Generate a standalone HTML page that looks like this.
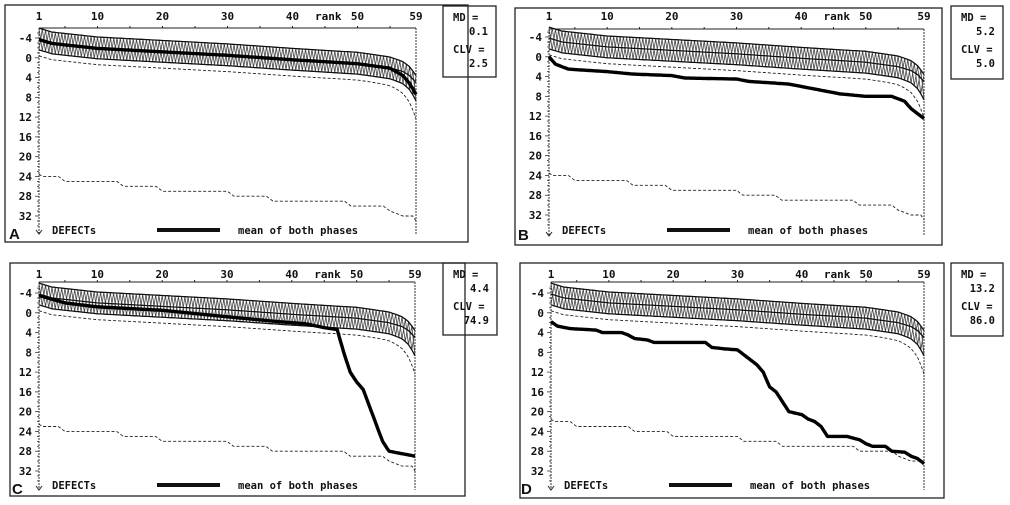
<!DOCTYPE html>
<html><head><meta charset="utf-8"><style>
html,body{margin:0;padding:0;background:#fff;}
svg{display:block;}
text{font-family:"DejaVu Sans Mono","Liberation Mono",monospace;font-weight:bold;fill:#111;}
</style></head><body>
<svg id="s" width="1010" height="505" viewBox="0 0 1010 505" xmlns="http://www.w3.org/2000/svg"></svg>
<script>
const S=document.getElementById('s');let h='';
function interp(pts,r){for(let i=0;i<pts.length-1;i++){if(r<=pts[i+1][0]){const a=pts[i],b=pts[i+1];const t=(r-a[0])/(b[0]-a[0]);return a[1]+t*(b[1]-a[1]);}}return pts[pts.length-1][1];}
const M=[[1,-3.8],[3,-3],[10,-2],[20,-1.3],[30,-0.6],[40,0.3],[50,1.1],[55,2],[57,2.8],[58,3.6],[59,5]];
const mean=r=>interp(M,r);
const top_=r=>mean(r)-2.2+0.8*Math.exp((r-59)/1.5);
const bot=r=>mean(r)+2.2+1.5*Math.exp((r-59)/1.2);
const dash=r=>mean(r)+3.4+4*Math.exp((r-59)/1.5);
function lim(b){return [[1,b],[1.5,b+.5],[4,b+.5],[5,b+1.5],[13,b+1.5],[14,b+2.5],[19,b+2.5],[20,b+3.5],[30,b+3.5],[31,b+4.5],[36,b+4.5],[37,b+5.5],[48,b+5.5],[49,b+6.5],[54,b+6.5],[55,b+7.5],[57,b+8.5],[58.5,b+8.5],[59,b+9.5]];}
const P=[
{box:[5,5,463,237],L:39,R:416,T:28,y4:38,y32:216,B:234,md:[443,6,53,71],lab:'A',lx:9,ly:239,tl:20,lg:230,mdv:['0.1','2.5'],lb:23.5,
 pat:M.map(p=>[p[0],p[1]+(p[0]>56?(p[0]-56)*0.8:0.1)])},
{box:[515,8,427,237],L:549,R:924,T:29,y4:37,y32:215,B:236,md:[951,6,52,73],lab:'B',lx:518,ly:240,tl:20,lg:230,mdv:['5.2','5.0'],lb:23.5,
 pat:[[1,0],[2,1.5],[4,2.5],[10,3],[14,3.5],[20,3.8],[22,4.3],[30,4.5],[32,5],[38,5.5],[42,6.5],[46,7.5],[50,8],[54,8],[56,9],[57,10.5],[58,11.5],[59,12.5]]},
{box:[10,263,455,233],L:39,R:415,T:282,y4:293,y32:471,B:490,md:[443,263,54,72],lab:'C',lx:12,ly:494,tl:278,lg:485,mdv:['4.4','74.9'],lb:22.5,
 pat:[[1,-3.5],[5,-2],[10,-1.2],[20,-0.5],[30,0.8],[38,1.8],[42,2.2],[45,3],[47,3.4],[48,8],[49,12],[50,14],[51,15.5],[52,19],[53,22.5],[54,26],[55,28],[57,28.5],[59,29]]},
{box:[520,263,424,235],L:551,R:924,T:282,y4:293,y32:471,B:490,md:[951,263,52,73],lab:'D',lx:521,ly:494,tl:278,lg:485,mdv:['13.2','86.0'],lb:21.5,
 pat:[[1,1.8],[2,2.7],[4,3.2],[8,3.5],[9,4],[12,4],[13,4.5],[14,5.2],[16,5.5],[17,6],[25,6],[26,7],[28,7.3],[30,7.5],[31,8.5],[33,10.5],[34,12],[35,15],[36,16],[37,18],[38,20],[40,20.6],[41,21.5],[42,22],[43,23],[44,25],[47,25],[49,25.7],[50,26.5],[51,27],[53,27],[54,28],[56,28.2],[57,29],[58,29.5],[59,30.5]]}
];
for(const p of P){
 const X=r=>p.L+(r-1)*(p.R-p.L)/58, Y=v=>p.y4+(v+4)*(p.y32-p.y4)/36;
 const [bx,by,bw,bh]=p.box;
 h+=`<rect x="${bx}" y="${by}" width="${bw}" height="${bh}" fill="none" stroke="#222" stroke-width="1.3"/>`;
 const [mx,my,mw,mh]=p.md;
 h+=`<rect x="${mx}" y="${my}" width="${mw}" height="${mh}" fill="none" stroke="#222" stroke-width="1.3"/>`;
 h+=`<text x="${mx+10}" y="${my+15}" font-size="10.5">MD =</text><text x="${mx+mw-8}" y="${my+29}" font-size="10.5" text-anchor="end">${p.mdv[0]}</text>`;
 h+=`<text x="${mx+10}" y="${my+47}" font-size="10.5">CLV =</text><text x="${mx+mw-8}" y="${my+61}" font-size="10.5" text-anchor="end">${p.mdv[1]}</text>`;
 h+=`<line x1="${p.L}" y1="${p.T}" x2="${p.R}" y2="${p.T}" stroke="#222" stroke-width="1"/>`;
 h+=`<line x1="${p.L}" y1="${p.T}" x2="${p.L}" y2="${p.B}" stroke="#333" stroke-width="1" stroke-dasharray="2,1"/>`;
 h+=`<line x1="${p.R}" y1="${p.T}" x2="${p.R}" y2="${p.B}" stroke="#333" stroke-width="1" stroke-dasharray="2,1"/>`;
 h+=`<path d="M${p.L-3},${p.B-4} L${p.L},${p.B} L${p.L+3},${p.B-4}" fill="none" stroke="#222"/>`;
 for(let r=5;r<59;r+=5)h+=`<line x1="${X(r)}" y1="${p.T}" x2="${X(r)}" y2="${p.T-2}" stroke="#222"/>`;
 for(const r of [1,10,20,30,40,50,59])h+=`<text x="${X(r)}" y="${p.tl}" font-size="11" text-anchor="middle">${r}</text>`;
 h+=`<text x="${X(45.5)}" y="${p.tl}" font-size="11" text-anchor="middle">rank</text>`;
 for(let v=-5;v<=34;v++){const y=Y(v);if(y>p.B-6)break;const maj=(v%4===0);h+=`<line x1="${p.L-(maj?4:2)}" y1="${y}" x2="${p.L}" y2="${y}" stroke="#333" stroke-width="0.8"/>`;if(maj&&v>=-4&&v<=32)h+=`<text x="${p.L-7}" y="${y+4}" font-size="11" text-anchor="end">${v}</text>`;}
 h+=`<text x="${p.lx}" y="${p.ly}" font-size="15" style="font-family:'Liberation Sans',sans-serif">${p.lab}</text>`;
 h+=`<text x="${p.L+13}" y="${p.lg+4}" font-size="10.5">DEFECTs</text>`;
 h+=`<line x1="${p.L+118}" y1="${p.lg}" x2="${p.L+181}" y2="${p.lg}" stroke="#111" stroke-width="4"/>`;
 h+=`<text x="${p.L+199}" y="${p.lg+4}" font-size="10.5">mean of both phases</text>`;
 const line=(f,step)=>{let s='';for(let r=1;r<=59.001;r+=step)s+=(s?' L':'M')+X(r).toFixed(1)+','+Y(f(r)).toFixed(1);return s;};
 let z1='',z2='';for(let r=1,i=0;r<=59.001;r+=0.5,i++){const a=(i%2===0)?top_(r):bot(r),b=(i%2===0)?bot(r):top_(r);z1+=(z1?' L':'M')+X(r).toFixed(1)+','+Y(a).toFixed(1);z2+=(z2?' L':'M')+X(r).toFixed(1)+','+Y(b).toFixed(1);}
 h+=`<path d="${z1}" fill="none" stroke="#444" stroke-width="0.8"/><path d="${z2}" fill="none" stroke="#444" stroke-width="0.8"/>`;
 h+=`<path d="${line(top_,0.25)}" fill="none" stroke="#111" stroke-width="1.3"/>`;
 h+=`<path d="${line(mean,0.25)}" fill="none" stroke="#111" stroke-width="1.3"/>`;
 h+=`<path d="${line(bot,0.25)}" fill="none" stroke="#111" stroke-width="1.3"/>`;
 h+=`<path d="${line(dash,0.25)}" fill="none" stroke="#222" stroke-width="0.9" stroke-dasharray="3,2"/>`;
 const LL=lim(p.lb);h+=`<path d="${line(r=>interp(LL,r),0.25)}" fill="none" stroke="#222" stroke-width="0.9" stroke-dasharray="3,2"/>`;
 h+=`<path d="${line(r=>interp(p.pat,r),0.25)}" fill="none" stroke="#000" stroke-width="3.4" stroke-linejoin="round"/>`;
}
S.innerHTML=h;
</script>
</body></html>
